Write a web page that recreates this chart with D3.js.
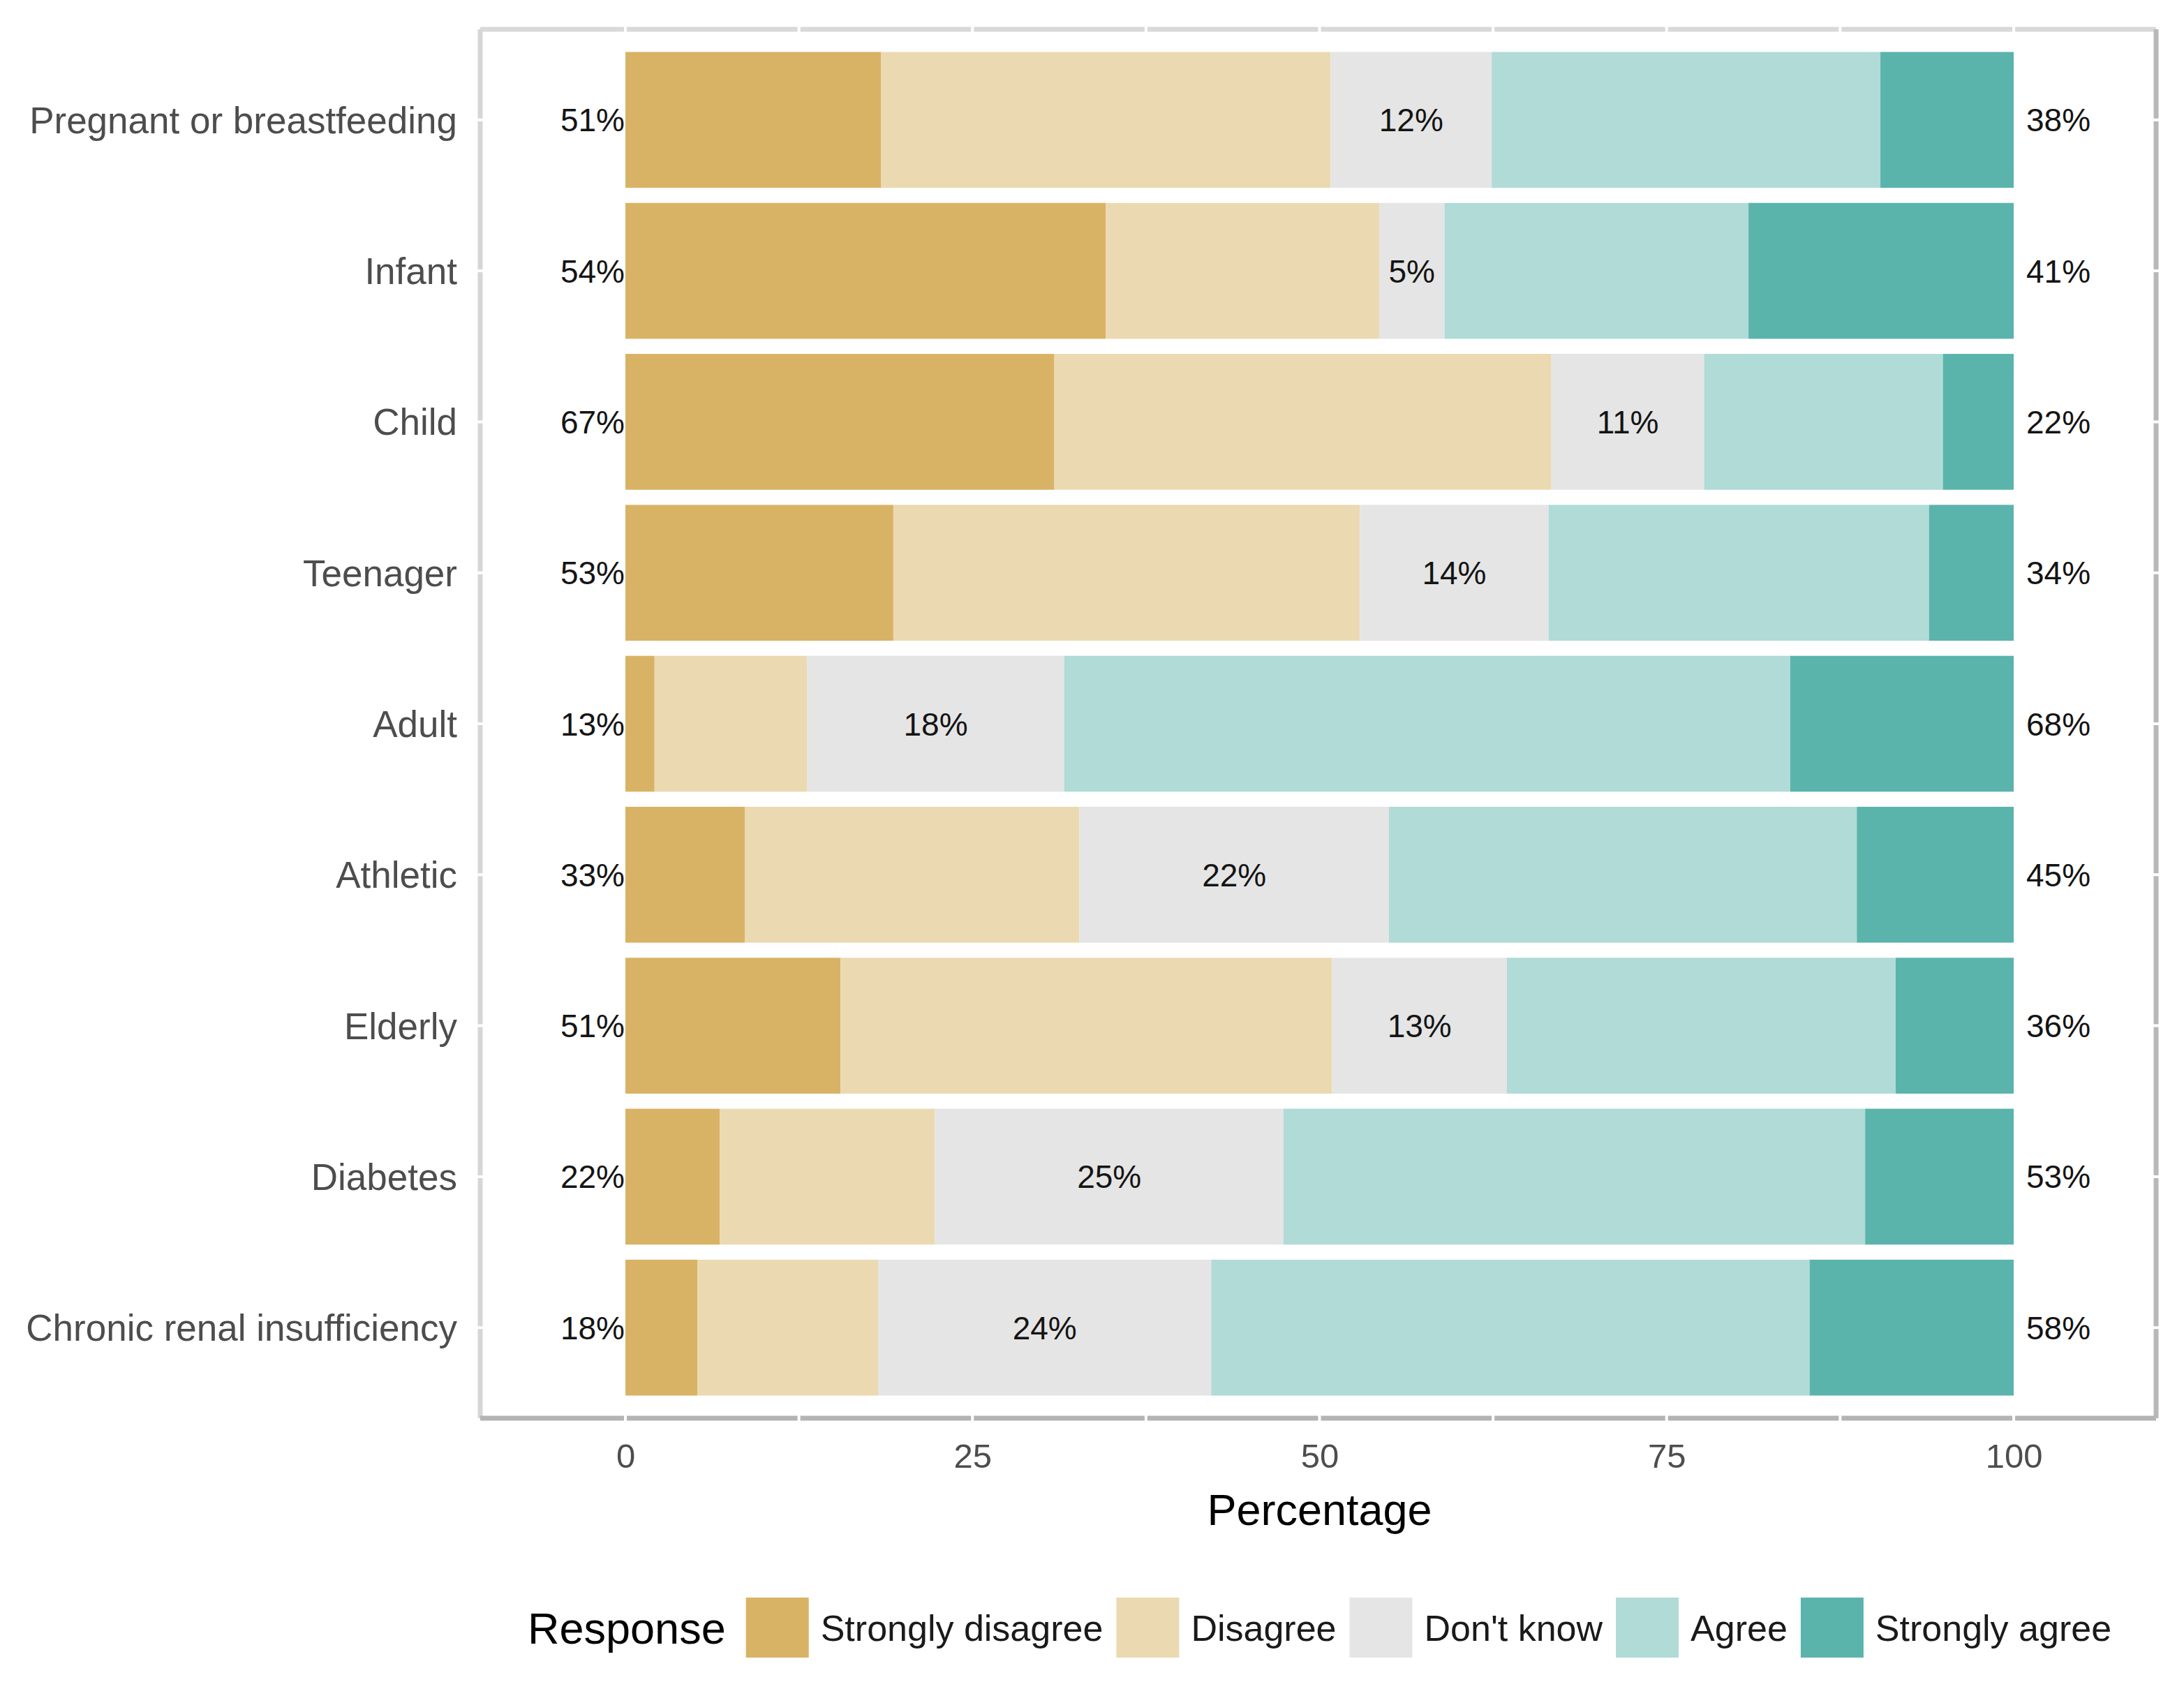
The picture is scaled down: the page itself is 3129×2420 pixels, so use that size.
<!DOCTYPE html>
<html>
<head>
<meta charset="utf-8">
<script src="https://cdn.jsdelivr.net/npm/d3@7"></script>
<style>
  html, body { margin: 0; padding: 0; background: #fff; }
  svg { display: block; font-family: "Liberation Sans", Arial, sans-serif; }
</style>
</head>
<body>
<svg id="chart" width="3129" height="2420"></svg>
<script>
// data
const categories = ['Pregnant or breastfeeding', 'Infant', 'Child', 'Teenager', 'Adult',
                    'Athletic', 'Elderly', 'Diabetes', 'Chronic renal insufficiency'];
const responses = ['Strongly disagree', 'Disagree', "Don't know", 'Agree', 'Strongly agree'];
const stronglyDisagree = [18.4, 34.6, 30.9, 19.3, 2.1, 8.6, 15.5, 6.8, 5.2];
const disagree         = [32.4, 19.7, 35.8, 33.6, 11.0, 24.1, 35.4, 15.5, 13.0];
const dontKnow         = [11.6, 4.7, 11.0, 13.6, 18.5, 22.3, 12.6, 25.1, 24.0];
const agree            = [28.0, 21.9, 17.2, 27.4, 52.3, 33.7, 28.0, 41.9, 43.1];
const stronglyAgree    = [9.6, 19.1, 5.1, 6.1, 16.1, 11.3, 8.5, 10.7, 14.7];
const lowLabels  = [51, 54, 67, 53, 13, 33, 51, 22, 18];
const midLabels  = [12, 5, 11, 14, 18, 22, 13, 25, 24];
const highLabels = [38, 41, 22, 34, 68, 45, 36, 53, 58];
const xTicks = [0, 25, 50, 75, 100];
const colors = ['#d8b365', '#ebd9b2', '#e5e5e5', '#b0dbd7', '#5ab4ac'];

const series = [stronglyDisagree, disagree, dontKnow, agree, stronglyAgree];
const rows = categories.map((c, i) => {
  const r = { category: c };
  responses.forEach((k, j) => { r[k] = series[j][i]; });
  return r;
});
const stacked = d3.stack().keys(responses)(rows);

const panel = { left: 688, right: 3089, top: 42, bottom: 2032 };

const svg = d3.select('#chart');

const x = d3.scaleLinear().domain([0, 100]).range([896, 2885]);
const y = d3.scalePoint().domain(categories).range([panel.top, panel.bottom]).padding(0.6);
const barH = y.step() * 0.9;
const color = d3.scaleOrdinal().domain(responses).range(colors);

// panel border
const gBorder = svg.append('g');
gBorder.append('line').attr('x1', panel.left).attr('x2', panel.right)
  .attr('y1', panel.top).attr('y2', panel.top).attr('stroke', '#d9d9d9').attr('stroke-width', 7);
gBorder.append('line').attr('x1', panel.left).attr('x2', panel.left)
  .attr('y1', panel.top).attr('y2', panel.bottom).attr('stroke', '#d6d6d6').attr('stroke-width', 7);
gBorder.append('line').attr('x1', panel.left).attr('x2', panel.right)
  .attr('y1', panel.bottom).attr('y2', panel.bottom).attr('stroke', '#b4b4b4').attr('stroke-width', 7);
gBorder.append('line').attr('x1', panel.right).attr('x2', panel.right)
  .attr('y1', panel.top).attr('y2', panel.bottom).attr('stroke', '#b8b8b8').attr('stroke-width', 7);

// white grid lines, only visible where they cross the border
const gridX = d3.range(0, 100.1, 12.5);
svg.append('g').selectAll('line').data(gridX).join('line')
  .attr('x1', d => x(d)).attr('x2', d => x(d))
  .attr('y1', panel.top - 6).attr('y2', panel.bottom + 6)
  .attr('stroke', '#fff').attr('stroke-width', 4);
svg.append('g').selectAll('line').data(categories).join('line')
  .attr('x1', panel.left - 6).attr('x2', panel.right + 6)
  .attr('y1', d => y(d)).attr('y2', d => y(d))
  .attr('stroke', '#fff').attr('stroke-width', 4);

// bars
svg.append('g').selectAll('g').data(stacked).join('g')
  .attr('fill', d => color(d.key))
  .selectAll('rect').data(d => d).join('rect')
  .attr('x', d => x(d[0]))
  .attr('width', d => x(d[1]) - x(d[0]))
  .attr('y', d => y(d.data.category) - barH / 2)
  .attr('height', barH);

// percentage labels
const gLab = svg.append('g').attr('font-size', 46).attr('fill', '#141414');
gLab.selectAll('text.low').data(categories).join('text').attr('class', 'low')
  .attr('x', x(0) - 1).attr('y', d => y(d)).attr('dy', '0.36em')
  .attr('text-anchor', 'end').text((d, i) => lowLabels[i] + '%');
gLab.selectAll('text.mid').data(categories).join('text').attr('class', 'mid')
  .attr('x', (d, i) => x(stacked[2][i][0] + dontKnow[i] / 2)).attr('y', d => y(d)).attr('dy', '0.36em')
  .attr('text-anchor', 'middle').text((d, i) => midLabels[i] + '%');
gLab.selectAll('text.high').data(categories).join('text').attr('class', 'high')
  .attr('x', x(100) + 18).attr('y', d => y(d)).attr('dy', '0.36em')
  .attr('text-anchor', 'start').text((d, i) => highLabels[i] + '%');

// y axis labels
svg.append('g').attr('font-size', 53).attr('fill', '#4d4d4d')
  .selectAll('text').data(categories).join('text')
  .attr('x', 655).attr('y', d => y(d)).attr('dy', '0.36em')
  .attr('text-anchor', 'end').text(d => d);

// x axis
const xAxis = svg.append('g')
  .attr('transform', `translate(0, ${panel.bottom})`)
  .call(d3.axisBottom(x).tickValues(xTicks).tickSize(0).tickPadding(36));
xAxis.select('.domain').remove();
xAxis.selectAll('text').attr('font-size', 49).attr('fill', '#4d4d4d')
  .attr('font-family', '"Liberation Sans", Arial, sans-serif');

svg.append('text')
  .attr('x', x(50)).attr('y', 2162).attr('dy', '0.36em')
  .attr('text-anchor', 'middle').attr('font-size', 63).attr('fill', '#000')
  .text('Percentage');

// legend
const legendY = 2332;
const gLeg = svg.append('g');
const title = gLeg.append('text')
  .attr('x', 756).attr('y', legendY).attr('dy', '0.36em')
  .attr('font-size', 63).attr('fill', '#000').text('Response');
let cursor = 756 + title.node().getComputedTextLength() + 29;
responses.forEach(r => {
  gLeg.append('rect')
    .attr('x', cursor).attr('y', legendY - 43)
    .attr('width', 90).attr('height', 86).attr('fill', color(r));
  const t = gLeg.append('text')
    .attr('x', cursor + 107).attr('y', legendY).attr('dy', '0.36em')
    .attr('font-size', 52).attr('fill', '#1a1a1a').text(r);
  cursor += 107 + t.node().getComputedTextLength() + 19;
});
</script>
</body>
</html>
